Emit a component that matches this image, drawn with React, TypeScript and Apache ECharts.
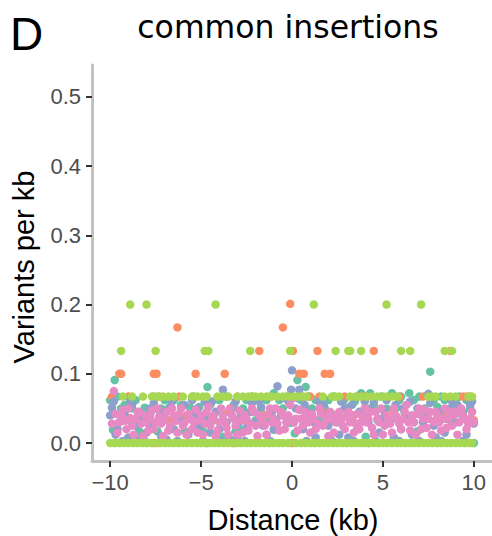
import React, { useEffect, useRef } from "react";
import * as echarts from "echarts";

// ---- tick labels ----
const xTicks = [-10, -5, 0, 5, 10];
const yTicks = [0, 0.1, 0.2, 0.3, 0.4, 0.5];

// ---- series colours (Set2) ----
const seriesNames = ["s1", "s2", "s3", "s4", "s5"];
const seriesColors = ["#66C2A5", "#FC8D62", "#8DA0CB", "#E78AC3", "#A6D854"];

// ---- teal ----
const tealPoints: [number, number][] = [
  [-10.0, 0.062], [-9.75, 0.091], [-9.85, 0.019], [-9.4, 0.05], [-9.0, 0.033], [-8.6, 0.062],
  [-8.1, 0.051], [-7.8, 0.043], [-7.4, 0.017], [-7.0, 0.062], [-6.7, 0.052], [-6.3, 0.033],
  [-5.9, 0.017], [-5.6, 0.051], [-5.1, 0.052], [-4.65, 0.081], [-4.7, 0.0], [-4.3, 0.033],
  [-4.0, 0.062], [-3.8, 0.009], [-3.4, 0.05], [-3.1, 0.017], [-2.85, 0.019], [-2.5, 0.062],
  [-2.0, 0.033], [-1.4, 0.062], [-1.0, 0.072], [-1.0, 0.019], [-0.5, 0.05], [-0.1, 0.029],
  [0.15, 0.014], [0.3, 0.091], [0.75, 0.081], [1.1, 0.05], [1.5, 0.033], [2.0, 0.062],
  [2.6, 0.043], [2.85, 0.062], [3.0, 0.051], [3.45, 0.06], [3.8, 0.072], [4.05, 0.009],
  [4.3, 0.072], [4.7, 0.033], [5.2, 0.05], [5.5, 0.072], [5.9, 0.062], [6.2, 0.043],
  [6.45, 0.072], [6.9, 0.017], [7.3, 0.05], [7.6, 0.103], [8.0, 0.052], [8.4, 0.062],
  [8.7, 0.033], [9.0, 0.062], [9.4, 0.045], [9.9, 0.029], [10.0, 0.0],
  [-9.6, 0.067], [-9.2, 0.055], [-8.8, 0.05], [-8.4, 0.017], [-7.6, 0.067], [-7.2, 0.05],
  [-6.9, 0.033], [-6.5, 0.062], [-6.1, 0.055], [-5.4, 0.067], [-4.9, 0.017], [-4.5, 0.055],
  [-3.6, 0.067], [-3.2, 0.055], [-2.7, 0.05], [-2.2, 0.067], [-1.7, 0.05], [-1.2, 0.033],
  [-0.7, 0.062], [-0.3, 0.067], [0.5, 0.062], [0.9, 0.067], [1.3, 0.062], [1.8, 0.05],
  [2.3, 0.067], [3.3, 0.033], [4.0, 0.067], [4.5, 0.055], [4.9, 0.067], [5.7, 0.05],
  [6.0, 0.067], [6.7, 0.062], [7.0, 0.067], [7.8, 0.062], [8.2, 0.067], [8.9, 0.05],
  [9.2, 0.067], [9.6, 0.062], [9.8, 0.05],
];

// ---- orange ----
const orangePoints: [number, number][] = [
  [-0.1, 0.201],
  [-6.3, 0.167], [-0.5, 0.167],
  [-1.8, 0.133], [0.05, 0.133], [1.4, 0.133], [4.5, 0.133], [8.7, 0.133],
  [-9.5, 0.1], [-9.4, 0.1], [-7.6, 0.1], [-7.45, 0.1], [-5.3, 0.1], [-3.7, 0.1],
  [0.4, 0.1], [0.65, 0.1], [1.8, 0.1], [2.1, 0.1],
  [-9.9, 0.067], [-9.0, 0.067], [-7.3, 0.067], [-6.2, 0.067], [-3.0, 0.067], [-1.2, 0.067],
  [0.6, 0.067], [1.0, 0.067], [1.5, 0.067], [2.9, 0.067], [3.6, 0.067], [4.0, 0.067],
  [5.9, 0.067], [7.2, 0.067], [9.4, 0.067], [9.6, 0.067], [9.8, 0.067],
  [-8.5, 0.033], [-6.7, 0.033], [-4.4, 0.033], [-2.6, 0.033], [-0.9, 0.033], [0.9, 0.033],
  [2.7, 0.033], [4.9, 0.033], [6.6, 0.033], [7.9, 0.033], [10.0, 0.033],
  [-9.2, 0.04], [-5.8, 0.04], [-3.5, 0.045], [-1.5, 0.04], [1.7, 0.045], [3.4, 0.04],
  [5.6, 0.045], [8.3, 0.04], [9.9, 0.045],
  [-7.6, 0.0], [-3.2, 0.0], [0.0, 0.0], [4.2, 0.0],
];

// ---- blue ----
const bluePoints: [number, number][] = [
  [-10.0, 0.04], [-9.9, 0.051], [-9.7, 0.012], [-9.5, 0.03], [-9.2, 0.045], [-9.0, 0.008],
  [-8.8, 0.055], [-8.6, 0.025], [-8.3, 0.038], [-8.0, 0.015], [-7.8, 0.05], [-7.5, 0.03],
  [-7.2, 0.01], [-7.0, 0.042], [-6.75, 0.051], [-6.5, 0.02], [-6.2, 0.035], [-5.9, 0.055],
  [-5.7, 0.012], [-5.4, 0.04], [-5.1, 0.025], [-4.8, 0.06], [-4.5, 0.015], [-4.2, 0.045],
  [-3.8, 0.077], [-3.6, 0.03], [-3.3, 0.05], [-3.0, 0.01], [-2.8, 0.04], [-2.5, 0.022],
  [-2.2, 0.058], [-1.9, 0.03], [-1.7, 0.052], [-1.4, 0.012], [-1.1, 0.045], [-0.8, 0.082],
  [-0.55, 0.065], [-0.3, 0.03], [-0.05, 0.077], [0.0, 0.105], [0.2, 0.05], [0.4, 0.077],
  [0.6, 0.02], [0.9, 0.045], [1.2, 0.03], [1.5, 0.06], [1.75, 0.055], [2.0, 0.025],
  [2.3, 0.04], [2.6, 0.012], [2.9, 0.05], [3.3, 0.055], [3.6, 0.02], [3.9, 0.04],
  [4.2, 0.03], [4.5, 0.06], [4.8, 0.015], [5.1, 0.045], [5.4, 0.03], [5.7, 0.055],
  [6.0, 0.02], [6.3, 0.04], [6.6, 0.012], [6.9, 0.05], [7.2, 0.03], [7.5, 0.071],
  [7.8, 0.025], [8.1, 0.045], [8.4, 0.015], [8.7, 0.05], [9.0, 0.03], [9.3, 0.042],
  [9.6, 0.012], [9.8, 0.055], [10.0, 0.028],
  [-9.6, 0.02], [-9.1, 0.035], [-8.4, 0.005], [-7.9, 0.028], [-7.3, 0.047], [-6.9, 0.005],
  [-6.0, 0.03], [-5.2, 0.05], [-4.7, 0.035], [-4.0, 0.02], [-3.4, 0.005], [-2.9, 0.03],
  [-2.3, 0.045], [-1.6, 0.025], [-1.0, 0.02], [-0.6, 0.04], [0.1, 0.03], [0.7, 0.055],
  [1.3, 0.008], [1.9, 0.04], [2.5, 0.03], [3.1, 0.008], [3.7, 0.045], [4.3, 0.05],
  [4.9, 0.035], [5.6, 0.008], [6.1, 0.05], [6.7, 0.03], [7.3, 0.045], [7.9, 0.008],
  [8.5, 0.035], [9.1, 0.055], [9.7, 0.03],
  [-9.8, 0.06], [-9.3, 0.003], [-8.9, 0.062], [-8.1, 0.003], [-7.6, 0.058], [-6.6, 0.06],
  [-6.3, 0.003], [-5.5, 0.062], [-4.9, 0.003], [-4.4, 0.06], [-3.9, 0.003], [-3.1, 0.06],
  [-2.6, 0.003], [-1.8, 0.06], [-1.2, 0.003], [-0.2, 0.06], [0.3, 0.065], [0.8, 0.003],
  [1.6, 0.058], [2.2, 0.003], [2.7, 0.06], [3.4, 0.003], [4.0, 0.06], [4.6, 0.003],
  [5.2, 0.062], [5.9, 0.003], [6.5, 0.06], [7.0, 0.003], [7.6, 0.058], [8.2, 0.003],
  [8.8, 0.06], [9.4, 0.003], [9.9, 0.06],
];

// ---- pink ----
const pinkPoints: [number, number][] = [
  [-9.8, 0.075], [-9.7, 0.042], [-9.5, 0.03], [-9.3, 0.048], [-9.1, 0.02], [-8.9, 0.036],
  [-8.7, 0.012], [-8.5, 0.045], [-8.3, 0.028], [-8.1, 0.04], [-7.9, 0.018], [-7.7, 0.047],
  [-7.5, 0.03], [-7.3, 0.038], [-7.1, 0.01], [-6.9, 0.045], [-6.7, 0.025], [-6.5, 0.04],
  [-6.3, 0.015], [-6.1, 0.05], [-5.9, 0.03], [-5.7, 0.042], [-5.5, 0.02], [-5.3, 0.048],
  [-5.1, 0.033], [-4.9, 0.012], [-4.7, 0.045], [-4.5, 0.025], [-4.3, 0.04], [-4.1, 0.018],
  [-3.9, 0.05], [-3.7, 0.03], [-3.5, 0.012], [-3.3, 0.04], [-3.1, 0.025], [-2.9, 0.047],
  [-2.7, 0.015], [-2.5, 0.035], [-2.3, 0.028], [-2.1, 0.045], [-1.9, 0.01], [-1.7, 0.035],
  [-1.5, 0.025], [-1.3, 0.042], [-1.1, 0.03], [-0.9, 0.05], [-0.7, 0.018], [-0.5, 0.04],
  [-0.3, 0.03], [-0.1, 0.055], [0.05, 0.065], [0.2, 0.035], [0.4, 0.048], [0.6, 0.025],
  [0.8, 0.04], [1.0, 0.015], [1.2, 0.035], [1.4, 0.028], [1.6, 0.042], [1.8, 0.03],
  [2.0, 0.01], [2.2, 0.035], [2.4, 0.03], [2.6, 0.045], [2.8, 0.025], [3.0, 0.038],
  [3.2, 0.03], [3.4, 0.015], [3.6, 0.042], [3.8, 0.03], [4.0, 0.05], [4.2, 0.035],
  [4.4, 0.022], [4.6, 0.045], [4.8, 0.03], [5.0, 0.012], [5.2, 0.04], [5.4, 0.028],
  [5.6, 0.05], [5.8, 0.035], [6.0, 0.02], [6.2, 0.045], [6.4, 0.03], [6.6, 0.04],
  [6.8, 0.012], [7.0, 0.05], [7.2, 0.035], [7.4, 0.022], [7.6, 0.045], [7.8, 0.03],
  [8.0, 0.04], [8.2, 0.018], [8.4, 0.05], [8.6, 0.035], [8.8, 0.025], [9.0, 0.045],
  [9.2, 0.03], [9.4, 0.04], [9.6, 0.02], [9.8, 0.035], [10.0, 0.03],
  [-9.9, 0.028], [-9.6, 0.015], [-9.4, 0.04], [-9.2, 0.032], [-9.0, 0.05], [-8.8, 0.025],
  [-8.6, 0.035], [-8.4, 0.045], [-8.2, 0.01], [-8.0, 0.03], [-7.8, 0.038], [-7.6, 0.02],
  [-7.4, 0.05], [-7.2, 0.028], [-7.0, 0.035], [-6.8, 0.018], [-6.6, 0.05], [-6.4, 0.032],
  [-6.2, 0.042], [-6.0, 0.025], [-5.8, 0.012], [-5.6, 0.035], [-5.4, 0.03], [-5.2, 0.015],
  [-5.0, 0.04], [-4.8, 0.028], [-4.6, 0.052], [-4.4, 0.035], [-4.2, 0.01], [-4.0, 0.03],
  [-3.8, 0.04], [-3.6, 0.022], [-3.4, 0.05], [-3.2, 0.035], [-3.0, 0.012], [-2.8, 0.033],
  [-2.6, 0.04], [-2.4, 0.018], [-2.2, 0.05], [-2.0, 0.025], [-1.8, 0.04], [-1.6, 0.03],
  [-1.4, 0.012], [-1.2, 0.05], [-1.0, 0.035], [-0.8, 0.028], [-0.6, 0.045], [-0.4, 0.02],
  [-0.2, 0.04], [0.1, 0.03], [0.3, 0.018], [0.5, 0.035], [0.7, 0.045], [0.9, 0.03],
  [1.1, 0.042], [1.3, 0.02], [1.5, 0.05], [1.7, 0.025], [1.9, 0.038], [2.1, 0.045],
  [2.3, 0.015], [2.5, 0.04], [2.7, 0.035], [2.9, 0.02], [3.1, 0.045], [3.3, 0.04],
  [3.5, 0.028], [3.7, 0.02], [3.9, 0.038], [4.1, 0.03], [4.3, 0.045], [4.5, 0.012],
  [4.7, 0.035], [4.9, 0.05], [5.1, 0.025], [5.3, 0.035], [5.5, 0.015], [5.7, 0.04],
  [5.9, 0.028], [6.1, 0.035], [6.3, 0.055], [6.5, 0.018], [6.7, 0.03], [6.9, 0.042],
  [7.1, 0.02], [7.3, 0.048], [7.5, 0.035], [7.7, 0.012], [7.9, 0.045], [8.1, 0.03],
  [8.3, 0.035], [8.5, 0.022], [8.7, 0.045], [8.9, 0.04], [9.1, 0.012], [9.3, 0.05],
  [9.5, 0.035], [9.7, 0.028], [9.9, 0.045],
];

// ---- green (x positions by level) ----
const greenAt020 = [-8.9, -8.0, -4.2, 1.2, 5.2, 7.1];
const greenAt013 = [-9.4, -7.5, -4.8, -4.6, -2.3, -0.1, 2.4, 3.1, 3.2, 3.8, 6.0, 6.5, 8.4, 8.8];
const greenAt007 = [
  -9.3, -8.8, -8.2, -7.7, -7.4, -7.1, -6.8, -6.5, -6.0, -5.5, -5.2, -4.9, -4.7, -4.1, -3.8,
  -3.5, -3.0, -2.7, -2.4, -2.2, -2.0, -1.7, -1.4, -1.1, -0.8, -0.5, -0.2, 0.1, 0.3, 0.5,
  0.8, 1.7, 2.2, 2.4, 2.6, 3.2, 3.5, 3.8, 4.1, 4.4, 4.7, 5.0, 5.2, 5.5, 5.8, 7.5, 7.7,
  7.9, 8.4, 8.7, 9.0, 9.7, 9.9,
];
const greenAt000 = [
  -10.0, -9.75, -9.5, -9.25, -9.0, -8.75, -8.5, -8.25, -8.0, -7.75, -7.4, -7.25, -7.0,
  -6.75, -6.5, -6.25, -6.0, -5.75, -5.5, -5.25, -5.0, -4.75, -4.5, -4.25, -4.0, -3.75,
  -3.5, -3.25, -3.0, -2.75, -2.5, -2.25, -2.0, -1.75, -1.5, -1.25, -1.0, -0.75, -0.5,
  -0.2, 0.2, 0.5, 0.75, 1.0, 1.25, 1.5, 1.75, 2.0, 2.25, 2.5, 2.75, 3.0, 3.25, 3.5,
  3.75, 4.0, 4.25, 4.5, 4.75, 5.0, 5.25, 5.5, 5.75, 6.0, 6.25, 6.5, 6.75, 7.0, 7.25,
  7.5, 7.75, 8.0, 8.25, 8.5, 8.75, 9.0, 9.25, 9.5, 9.75, 9.9,
];
const greenLevels = [0.2, 0.133, 0.067, 0];

export default function App() {
  const ref = useRef<HTMLDivElement>(null);

  useEffect(() => {
    if (!ref.current) return;
    const chart = echarts.init(ref.current, null, { renderer: "svg" });

    const greenPoints: [number, number][] = [
      ...greenAt020.map((x) => [x, greenLevels[0]] as [number, number]),
      ...greenAt013.map((x) => [x, greenLevels[1]] as [number, number]),
      ...greenAt007.map((x) => [x, greenLevels[2]] as [number, number]),
      ...greenAt000.map((x) => [x, greenLevels[3]] as [number, number]),
    ];
    const allData = [tealPoints, orangePoints, bluePoints, pinkPoints, greenPoints];

    const axisFont = "'Liberation Sans', Arial, sans-serif";

    chart.setOption({
      animation: false,
      backgroundColor: "#ffffff",
      grid: { left: 92, right: -2, top: 65, bottom: 75, containLabel: false },
      xAxis: {
        type: "value",
        min: -11,
        max: 11,
        splitLine: { show: false },
        axisLine: { show: true, onZero: false, lineStyle: { color: "#c2c2c2", width: 3 } },
        axisTick: { show: true, customValues: xTicks, length: 6, lineStyle: { color: "#333333", width: 2 } },
        axisLabel: {
          customValues: xTicks,
          formatter: (v: number) => (v < 0 ? "\u2212" + Math.abs(v) : String(v)),
          color: "#4d4d4d",
          fontSize: 22,
          fontFamily: axisFont,
          margin: 10,
        },
      },
      yAxis: {
        type: "value",
        min: -0.026,
        max: 0.546,
        splitLine: { show: false },
        axisLine: { show: true, onZero: false, lineStyle: { color: "#c2c2c2", width: 3 } },
        axisTick: { show: true, customValues: yTicks, length: 6, lineStyle: { color: "#333333", width: 2 } },
        axisLabel: {
          customValues: yTicks,
          formatter: (v: number) => v.toFixed(1),
          color: "#4d4d4d",
          fontSize: 22,
          fontFamily: axisFont,
          margin: 11,
        },
      },
      series: seriesNames.map((name, i) => ({
        name,
        type: "scatter",
        data: allData[i],
        symbol: "circle",
        symbolSize: 8.5,
        itemStyle: { color: seriesColors[i], opacity: 1 },
        emphasis: { disabled: true },
        silent: true,
      })),
      graphic: [
        {
          type: "text",
          left: 10,
          top: 11,
          style: { text: "D", fontSize: 46, fontFamily: axisFont, fill: "#000000" },
        },
        {
          type: "text",
          x: 288,
          y: 27,
          style: {
            text: "common insertions",
            fontSize: 31.5,
            fontFamily: "'DejaVu Sans', sans-serif",
            fill: "#000000",
            align: "center",
            verticalAlign: "middle",
          },
        },
        {
          type: "text",
          x: 293,
          y: 520,
          style: {
            text: "Distance (kb)",
            fontSize: 29,
            fontFamily: axisFont,
            fill: "#000000",
            align: "center",
            verticalAlign: "middle",
          },
        },
        {
          type: "text",
          x: 24,
          y: 267,
          rotation: Math.PI / 2,
          style: {
            text: "Variants per kb",
            fontSize: 29,
            fontFamily: axisFont,
            fill: "#000000",
            align: "center",
            verticalAlign: "middle",
          },
        },
      ],
    });

    return () => chart.dispose();
  }, []);

  return (
    <div
      ref={ref}
      style={{ position: "absolute", left: 0, top: 0, width: 492, height: 536 }}
    />
  );
}
